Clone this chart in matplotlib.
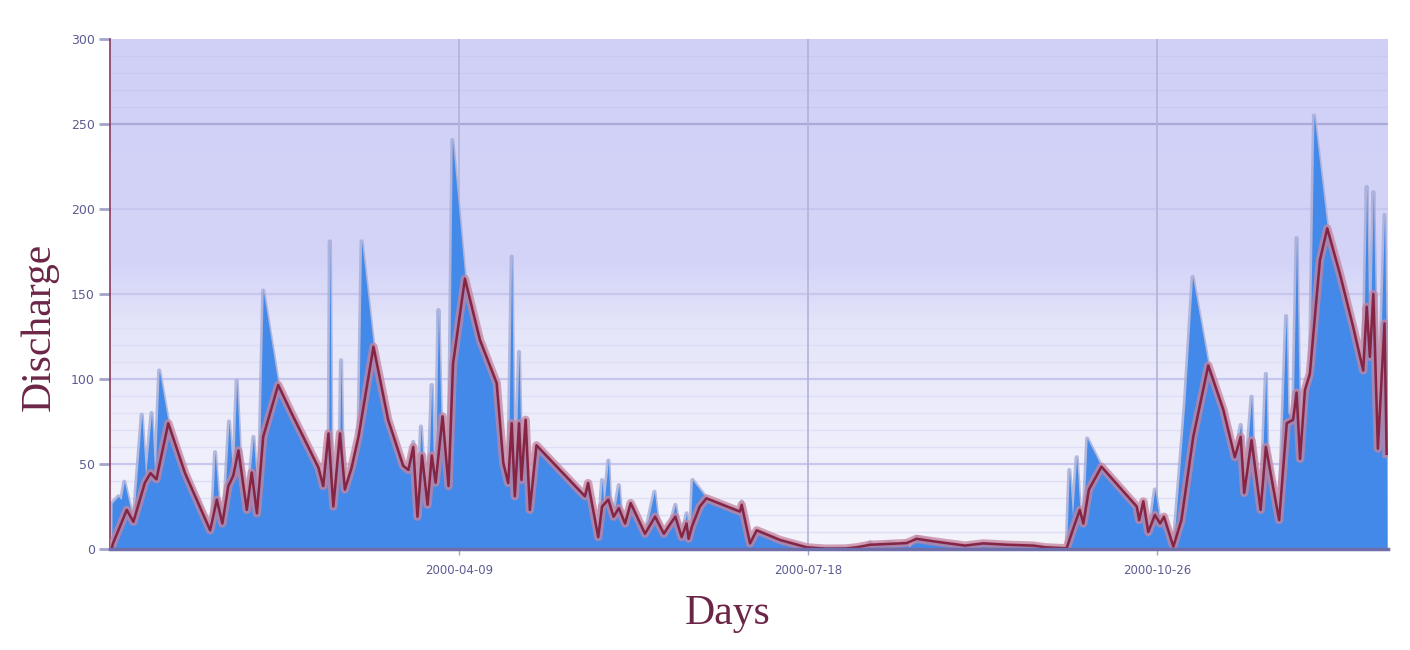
import numpy as np
import matplotlib
matplotlib.use("Agg")
import matplotlib.pyplot as plt
from matplotlib.colors import LinearSegmentedColormap

# day of year (Jan 1 = 1) and discharge
obs_days = [0.5, 0.6, 2.4, 3.2, 4.1, 6.7, 9.1, 10.2, 11.9, 12.9, 14.1, 16.7, 21.5, 29.1, 30.1, 31.0,
            32.5, 34.1, 35.3, 36.3, 37.2, 39.2, 41.1, 42.5, 43.9, 48.2, 52.0, 59.7, 61.1, 62.7, 63.0,
            63.4, 64.0, 65.9, 66.2, 66.6, 67.3, 69.2, 71.2, 72.1, 75.5, 79.7, 84.0, 85.5, 86.9, 88.1,
            89.1, 89.6, 91.0, 92.2, 92.6, 93.3, 94.1, 94.8, 95.3, 97.0, 98.1, 101.7, 106.0, 110.8,
            112.7, 114.1, 115.1, 115.6, 116.0, 117.2, 117.6, 117.9, 119.1, 120.3, 122.2, 136.1, 137.0,
            139.9, 141.0, 141.5, 142.8, 143.3, 144.3, 145.8, 146.3, 147.6, 149.2, 153.3, 156.0, 156.8,
            158.7, 160.6, 162.0, 162.5, 163.8, 165.2, 165.8, 166.2, 166.9, 170.9, 180.5, 181.0, 183.4,
            185.3, 192.0, 199.6, 205.0, 210.8, 214.0, 216.5, 217.8, 218.5, 223.5, 226.0, 228.3, 229.0,
            231.1, 236.0, 245.0, 250.2, 257.0, 264.6, 268.0, 274.1, 274.9, 275.8, 277.0, 277.9, 278.9,
            280.0, 284.1, 294.2, 294.9, 296.1, 297.5, 299.4, 300.9, 302.0, 304.7, 306.1, 308.0, 310.2,
            314.7, 319.0, 322.3, 324.0, 325.0, 327.1, 327.5, 329.7, 331.2, 331.6, 335.0, 337.0, 337.5,
            339.0, 340.0, 341.0, 342.4, 343.8, 345.0, 348.8, 352.4, 356.2, 359.1, 360.1, 360.6, 361.0,
            362.0, 362.5, 363.3, 365.2, 365.6, 365.8, 365.9]
obs_vals = [0, 27, 31, 29, 39.6, 16, 79, 42.5, 80, 40.6, 105, 74, 44.6, 11, 57, 31,
            14, 75, 39, 99, 58, 23, 66, 21, 152, 96.5, 80, 48, 37, 70, 181,
            68, 25, 68, 111, 60, 35, 47.6, 66, 181, 119, 76, 49, 46.5, 63, 19,
            72, 55, 26, 96.5, 55, 39, 140.6, 80, 78, 37, 240.6, 159, 123, 97.6,
            50.6, 38.8, 172, 74, 31, 116, 74, 40.6, 76, 23, 61, 31, 38.8,
            7, 40.6, 25, 52, 29, 19, 37.6, 24, 15, 27, 9, 33.7, 19,
            9, 15, 26, 19, 7, 21, 6, 7, 40.6, 29.8, 22, 28, 3.3,
            11, 5.3, 1, 0.2, 0.3, 1, 1.5, 4, 2, 4, 2.5, 4.5, 1,
            7, 4.5, 2, 3.3, 2.5, 2, 1, 0.4, 46.5, 19, 54, 23, 15,
            65, 48.4, 25, 17, 28, 7, 35, 15, 19, 1.4, 36, 85.7, 160,
            108, 82, 54, 73, 33, 89.6, 64, 23, 103, 60, 17, 137, 80,
            76, 183, 53, 93.5, 103, 255, 188.6, 162, 130.8, 105, 213, 142, 113,
            210, 150, 59, 196.5, 133, 56, 0]

sim_days = [0.5, 0.8, 4.8, 6.7, 10.0, 11.6, 13.3, 16.7, 21.5, 28.7, 30.6, 32.2, 33.9, 35.3, 36.8,
            39.2, 40.6, 42.1, 43.9, 48.2, 52.0, 59.7, 61.1, 62.6, 64.0, 65.9, 67.3, 69.2, 71.2, 75.5,
            79.7, 84.0, 85.5, 86.9, 88.1, 89.4, 91.0, 92.2, 93.3, 95.3, 97.0, 98.3, 101.7, 106.0,
            110.8, 112.7, 114.1, 115.1, 116.0, 117.2, 117.9, 119.1, 120.3, 122.2, 136.1, 137.0, 139.9,
            141.0, 142.8, 144.3, 145.8, 147.6, 149.2, 153.3, 156.2, 158.7, 160.6, 162.0, 163.8, 165.2,
            165.8, 166.7, 169.0, 170.9, 180.5, 181.0, 183.4, 185.3, 192.0, 199.6, 205.0, 210.8, 214.0,
            217.8, 223.5, 228.3, 231.1, 236.0, 245.0, 250.2, 257.0, 264.6, 268.0, 274.1, 276.0, 277.9,
            278.9, 280.5, 284.1, 294.2, 294.9, 296.1, 297.5, 299.4, 300.9, 302.0, 304.7, 307.0, 310.4,
            314.7, 319.0, 322.3, 324.0, 325.0, 327.1, 329.7, 331.2, 335.0, 337.2, 339.0, 340.0, 341.0,
            342.4, 343.8, 346.7, 348.8, 352.4, 356.2, 359.1, 360.1, 361.0, 362.0, 363.3, 365.2, 365.8]
sim_vals = [0, 3, 23, 16, 39, 44.6, 41, 74, 44.6, 11, 29, 15, 37, 43, 58,
            23, 45, 21, 66, 96.5, 80, 48, 37, 68, 25, 68, 35, 47.6, 66, 119,
            76, 49, 46.5, 60, 19, 55, 26, 55, 39, 78, 37, 109, 159, 123,
            97.6, 50.6, 38.8, 74, 31, 74, 40.6, 76, 23, 61, 31, 38.8, 7,
            25, 29, 19, 24, 15, 27, 9, 19, 9, 15, 19, 7, 15,
            6, 13, 25, 29.8, 22, 26, 3.3, 11, 5.3, 1, 0.2, 0.3, 1,
            2.5, 3, 3.5, 6, 4.5, 2, 3.3, 2.5, 2, 1, 0.4, 12, 23,
            15, 35, 48.4, 25, 17, 28, 10, 20, 15, 19, 1.4, 17, 66,
            108, 82, 54, 66, 33, 64, 23, 60, 17, 74, 76, 92, 53,
            93.5, 103, 170, 188.6, 162, 130.8, 105, 142.5, 113, 150, 59, 132.7, 56]

xtick_days = [100, 200, 300]
ytick_vals = [0, 50, 100, 150, 200, 250, 300]

fig = plt.figure(figsize=(14.1, 6.5), dpi=100)
ax = fig.add_axes([110 / 1410, 1 - 549 / 650, 1278 / 1410, 510 / 650])

# lavender background, lighter towards the bottom
bg = LinearSegmentedColormap.from_list("bg", [(0, "#f4f4fd"), (0.2, "#efeffc"), (0.42, "#e6e6fa"),
                                              (0.56, "#d4d4f8"), (1, "#d0d0f7")])
grad = np.linspace(0, 1, 300).reshape(-1, 1)
ax.imshow(grad, cmap=bg, origin="lower", aspect="auto", extent=(0, 366.2, 0, 300), zorder=0)

for v in range(10, 160, 10):
    if v % 50:
        ax.axhline(v, color="#dedef7", lw=1.0, zorder=1)
for v in [260, 270, 280, 290]:
    ax.axhline(v, color="#c8c8f0", lw=0.8, zorder=1)
for v in [50, 100, 150, 200]:
    ax.axhline(v, color="#c6c6ee", lw=1.6, zorder=1)
ax.axhline(250, color="#aaaad8", lw=1.6, zorder=1)
for d in xtick_days:
    ax.axvline(d, color="#b0b4d6", lw=1.2, zorder=1)

# observed discharge as blue area
ax.plot(obs_days, obs_vals, color="#a4acd6", lw=3, alpha=0.8, zorder=2)
ax.fill_between(obs_days, obs_vals, 0, color="#4389e9", lw=0, zorder=3)

# simulated discharge, dark red line with pink halo
ax.plot(sim_days, sim_vals, color="#c6859f", lw=6, alpha=0.75, zorder=4, solid_joinstyle="round")
ax.plot(sim_days, sim_vals, color="#852443", lw=1.8, zorder=5, solid_joinstyle="round")

ax.set_xlim(0, 366.2)
ax.set_ylim(0, 300)
ax.set_yticks(ytick_vals)
ax.set_yticklabels([str(v) for v in ytick_vals])
ax.set_xticks(xtick_days)
ax.set_xticklabels([str(np.datetime64("1999-12-31") + d) for d in xtick_days])
ax.tick_params(axis="y", length=8, width=2, color="#a4a4cc", labelsize=9,
               labelcolor="#5c5c94", pad=3)
ax.tick_params(axis="x", length=4, width=1, color="#a4a4cc", labelsize=8.5,
               labelcolor="#5c5c94", pad=7)

for s in ["top", "right"]:
    ax.spines[s].set_visible(False)
ax.spines["left"].set_color("#8a3a5a")
ax.spines["left"].set_linewidth(1.2)
ax.spines["bottom"].set_color("#6e6eaa")
ax.spines["bottom"].set_linewidth(2.5)
ax.spines["bottom"].set_zorder(6)

ax.set_xlabel("Days", family="Liberation Serif", fontsize=30, color="#6b2547")
ax.set_ylabel("Discharge", family="Liberation Serif", fontsize=30, color="#6b2547")
ax.xaxis.set_label_coords(0.483, -0.09)
ax.yaxis.set_label_coords(-0.04, 0.435)

fig.savefig("out.png", dpi=100)
